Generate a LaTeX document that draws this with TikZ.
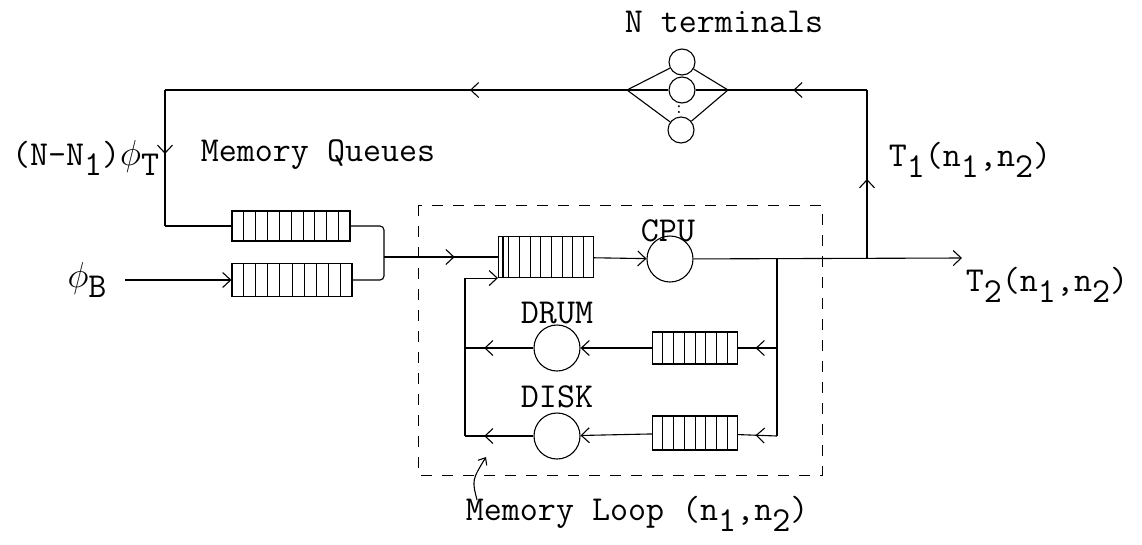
\documentclass[tikz,border=0pt]{standalone}
\usetikzlibrary{arrows.meta,decorations.markings,calc}
\newcommand{\lowr}[1]{\raisebox{-0.7ex}{#1}}
\newcommand{\phisym}{\scalebox{1.45}{$\phi$}}

\begin{document}
\begin{tikzpicture}[x=1pt,y=-1pt,line width=1.1pt,
  font=\ttfamily\fontsize{35}{38}\selectfont,
  >={Straight Barb[length=8pt,width=15pt]},
  server/.style={draw,circle,minimum size=46pt,inner sep=0pt},
  term/.style={draw,circle,minimum size=26pt,inner sep=0pt},
  queue/.style={draw,rectangle,inner sep=0pt},
  midarrow/.style={postaction={decorate},
    decoration={markings,mark=at position #1 with {\arrow{>}}}},
  loopbox/.style={dash pattern=on 11pt off 10pt,line width=0.9pt}]
  \useasboundingbox (0,0) rectangle (1142,544);

  % terminals
  \node (ntlbl) at (724,22) {N terminals};
  \node[term] (t1) at (682,62) {};
  \node[term] (t2) at (682,90) {};
  \node[term] (t3) at (681,130) {};
  \node[font=\ttfamily\fontsize{18}{18}\selectfont,inner sep=0pt] (tdots) at (679,110) {:};
  \coordinate (tl) at (627,90);
  \coordinate (tr) at (728,90);
  \coordinate (cR) at (867,90);
  \coordinate (cL) at (165,90);
  \foreach \t in {t1,t2,t3} {
    \draw (tl) -- (\t);
    \draw (\t) -- (tr);
  }

  % memory queues
  \node[queue,minimum width=118pt,minimum height=30pt] (mqT) at (291,226) {};
  \node[queue,minimum width=120pt,minimum height=33pt] (mqB) at (292,280) {};
  \coordinate (mqIn) at (165,226);
  \coordinate (bIn) at (125,280);
  \coordinate (jT) at (384,226);
  \coordinate (jB) at (384,280);
  \coordinate (jM) at (384,257);
  \node[anchor=east] (ntphi) at (163,158) {(N-N\lowr{1})\phisym\lowr{T}};
  \node (mqlbl) at (318,155) {Memory Queues};
  \node (phiB) at (87,280) {\phisym\lowr{B}};

  % memory loop
  \draw[loopbox] (418,205) rectangle (822,475);
  \node[queue,minimum width=95pt,minimum height=41pt] (cpuq) at (546,257) {};
  \draw ($(cpuq.south west)+(5,0)$) -- ($(cpuq.north west)+(5,0)$);
  \node[server] (cpu) at (670,259) {};
  \node (cpulbl) at (668,231) {CPU};
  \node[queue,minimum width=85pt,minimum height=32pt] (drumq) at (695,348) {};
  \node[server] (drum) at (557,348) {};
  \node (drumlbl) at (557,313) {DRUM};
  \node[queue,minimum width=85pt,minimum height=34pt] (diskq) at (695,433) {};
  \node[server] (disk) at (557,436) {};
  \node (disklbl) at (557,397) {DISK};
  \coordinate (split) at (777,258);
  \coordinate (sD) at (777,348);
  \coordinate (sK) at (777,436);
  \coordinate (rD) at (465,348);
  \coordinate (rK) at (465,436);
  \coordinate (fb) at (867,258);
  \coordinate (out) at (962,258);
  \node[anchor=west] (t1lbl) at (885,160) {T\lowr{1}(n\lowr{1},n\lowr{2})};
  \node[anchor=west] (t2lbl) at (962,285) {T\lowr{2}(n\lowr{1},n\lowr{2})};
  \node[anchor=west] (looplbl) at (462,514) {Memory Loop (n\lowr{1},n\lowr{2})};
  \coordinate (lpTail) at (477,500);
  \coordinate (lpTip) at (486,457);

  % queue slots
  \foreach \q/\n in {mqT/9,mqB/9,cpuq/8,drumq/7,diskq/7}
    \foreach \k in {1,...,\n} {
      \pgfmathsetmacro\f{\k/(\n+1)}
      \draw[line width=0.8pt] ($(\q.south west)!\f!(\q.south east)$)
        -- ($(\q.north west)!\f!(\q.north east)$);
    }

  % flows
  \draw[midarrow=0.47] (fb) -- (cR);
  \draw[midarrow=0.53] (cR) -- (tr);
  \draw[midarrow=0.34] (tl) -- (cL);
  \draw[midarrow=0.47] (cL) -- (mqIn);
  \draw (mqIn) -- (mqT);
  \draw[->] (bIn) -- (mqB);
  \draw[rounded corners=4pt] (mqT) -- (jT) -- (jB) -- (mqB);
  \draw[midarrow=0.62] (jM) -- (cpuq);
  \draw[->] (cpuq) -- (cpu);
  \draw[->] (cpu) -- (out);
  \draw (split) -- (sK);
  \draw[midarrow=0.55] (sD) -- (drumq);
  \draw[midarrow=0.55] (sK) -- (diskq);
  \draw[->] (drumq) -- (drum);
  \draw[->] (diskq) -- (disk);
  \draw[midarrow=0.72] (drum) -- (rD);
  \draw[midarrow=0.72] (disk) -- (rK);
  \draw[->] (rK) |- (cpuq.south west);
  \draw[->,>={Straight Barb[length=6pt,width=10pt]}] (lpTail)
    .. controls (472,480) .. (lpTip);
\end{tikzpicture}
\end{document}
